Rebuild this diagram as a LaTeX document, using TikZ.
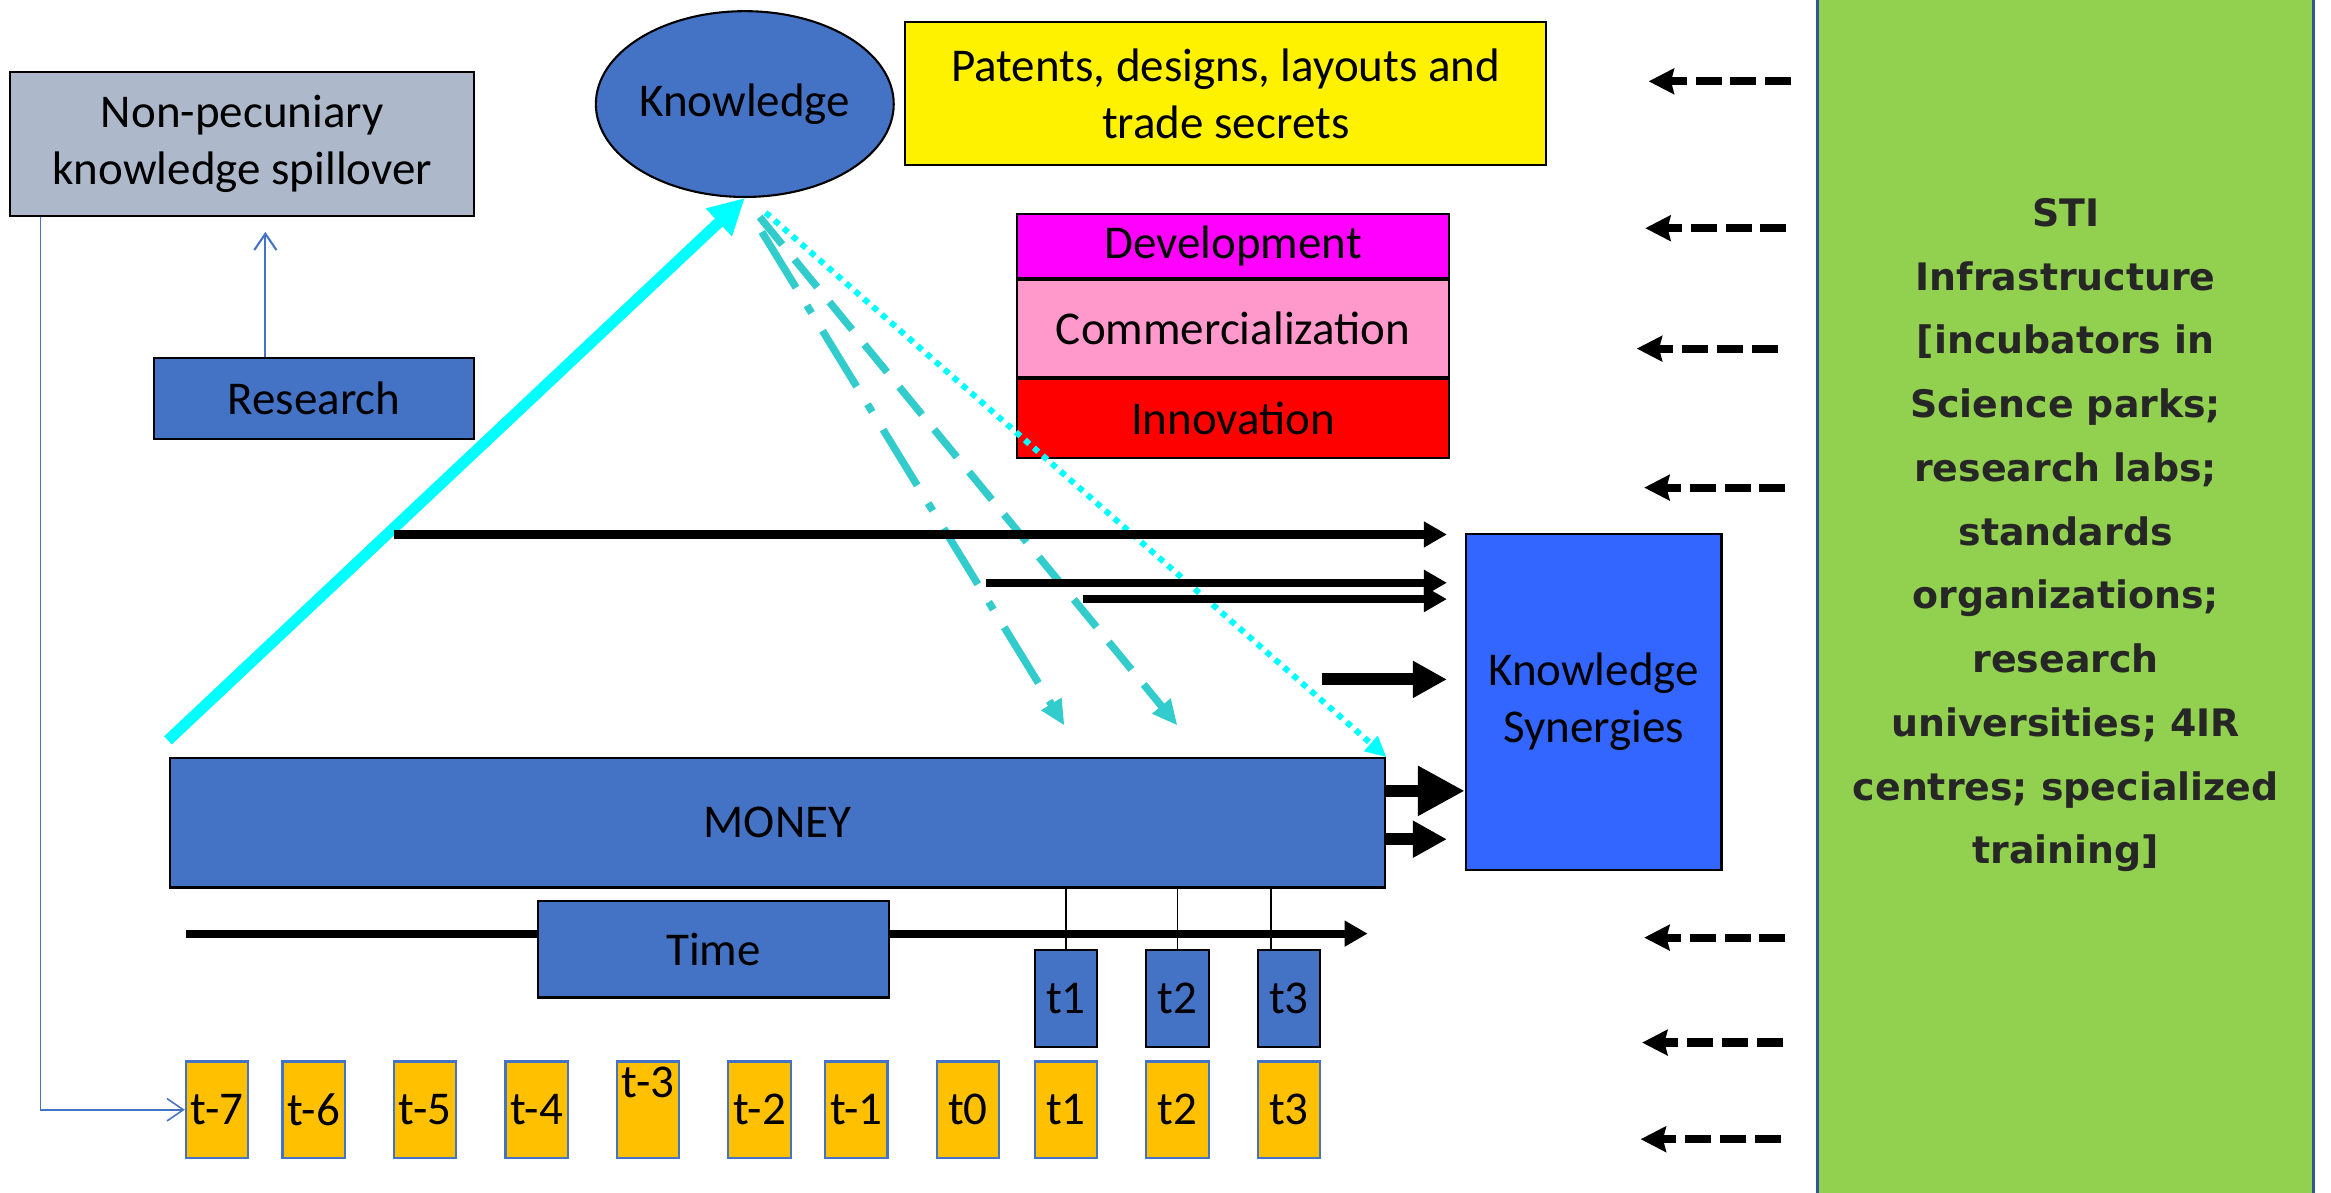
\documentclass[tikz,border=0pt]{standalone}
\usepackage{fontspec}
\setmainfont{Carlito}
\newfontfamily\stifont{DejaVu Sans}
\usetikzlibrary{arrows.meta,shapes.geometric,positioning}
\definecolor{accent}{HTML}{4472C4}
\definecolor{greyblue}{HTML}{ADB9CA}
\definecolor{synblue}{HTML}{3366FF}
\definecolor{devpink}{HTML}{FF00FF}
\definecolor{compink}{HTML}{FF99CC}
\definecolor{innored}{HTML}{FF0000}
\definecolor{tamber}{HTML}{FFC000}
\definecolor{stigreen}{HTML}{92D050}
\definecolor{stiedge}{HTML}{2F5597}
\definecolor{stitext}{HTML}{262626}
\definecolor{tealish}{HTML}{33CCCC}
\definecolor{aqua}{HTML}{00FFFF}

\begin{document}
\begin{tikzpicture}[x=0.02cm, y=-0.02cm, font=\fontsize{18}{21.8}\selectfont,
		box/.style = {draw, line width=0.8pt, inner sep=0pt, align=center},
		tbox/.style = {box, fill=accent, minimum width=0.84cm, minimum height=1.3cm},
		obox/.style = {draw=accent, line width=0.8pt, fill=tamber, inner sep=0pt, minimum width=0.84cm, minimum height=1.3cm},
		feed/.style = {accent, line width=0.8pt, -{Straight Barb[length=0.22cm,width=0.3cm]}},
		fat/.style = {line width=0.11cm, -{Triangle[length=0.31cm,width=0.33cm]}},
		fatter/.style = {line width=0.16cm, -{Triangle[length=0.46cm,width=0.47cm]}},
		fattest/.style = {line width=0.16cm, -{Triangle[length=0.63cm,width=0.63cm]}},
		infra/.style = {line width=0.11cm, dash pattern=on 0.35cm off 0.12cm, -{Stealth[length=0.34cm,width=0.34cm,inset=0.04cm]}},
		flow/.style = {tealish, line width=0.1cm, -{Triangle[length=0.34cm,width=0.3cm]}}]
	\useasboundingbox (0,0) rectangle (1568,802);
	\node[draw=stiedge, line width=1.2pt, fill=stigreen, minimum width=6.68cm, minimum height=16.6cm] (sti) at (1389.5,401) {};
	\node[font=\stifont\bfseries\fontsize{14.5}{24.4}\selectfont, text=stitext, align=center, inner sep=0pt] (stilabel) at (1389.5,360) {STI\\Infrastructure\\{[}incubators in\\Science parks;\\research labs;\\standards\\organizations;\\research\\universities; 4IR\\centres; specialized\\training]};
	\node[box, fill=greyblue, minimum width=6.24cm, minimum height=1.94cm] (spillover) at (163,97) {Non-pecuniary\\knowledge spillover};
	\node[box, fill=accent, minimum width=4.31cm, minimum height=1.09cm] (research) at (211.3,268.2) {Research};
	\node[draw, ellipse, line width=0.8pt, fill=accent, minimum width=3.88cm, minimum height=2.5cm, inner sep=0pt] (knowledge) at (501,70) {Knowledge};
	\node[box, fill=yellow, minimum width=8.62cm, minimum height=1.92cm] (patents) at (824.5,63) {Patents, designs, layouts and\\trade secrets};
	\node[box, fill=devpink, minimum width=5.82cm, minimum height=0.86cm] (dev) at (829.5,165.5) {Development};
	\node[box, fill=compink, minimum width=5.82cm, minimum height=1.3cm, below=0pt of dev] (comm) {Commercialization};
	\node[box, fill=innored, minimum width=5.82cm, minimum height=1.06cm, below=0pt of comm] (innov) {Innovation};
	\node[box, fill=synblue, minimum width=3.44cm, minimum height=4.52cm] (synergies) at (1072,472) {Knowledge\\Synergies};
	\node[box, fill=accent, minimum width=16.36cm, minimum height=1.74cm] (money) at (523,553.5) {MONEY};
	\coordinate (tstart) at (125,628);
	\coordinate (tend) at (920,628);
	\draw[fat] (tstart) -- (tend);
	\node[box, fill=accent, minimum width=4.72cm, minimum height=1.3cm] (time) at (480,638.5) {Time};
	\foreach \x/\n in {717/1, 792/2, 867/3}
		\node[tbox] (up\n) at (\x,671.5) {t\n};
	\foreach \x/\n in {146/-7, 211/-6, 286/-5, 361/-4, 511/-2, 576/-1, 651/0, 717/1, 792/2, 867/3}
		\node[obox] (lo\n) at (\x,746.5) {t\n};
	\node[obox] (lo-3) at (436,746.5) {};
	\node[anchor=base, inner sep=0pt] (lo-3text) at ([yshift=-0.5cm]lo-3.north) {t-3};
	\draw[line width=0.5pt] (up1.north) -- (up1.north |- money.south);
	\draw[line width=0.5pt] (up2.north) -- (up2.north |- money.south);
	\draw[line width=0.5pt] ([xshift=-0.24cm]up3.north) -- ([xshift=-0.24cm]up3.north |- money.south);
	\coordinate (spillin) at (178.5,156);
	\draw[feed] (research.north -| spillin) -- (spillin);
	\draw[feed, line width=0.6pt] ([xshift=0.42cm]spillover.south west) |- (lo-7.west);
	\coordinate (cyanfoot) at (113,498);
	\draw[aqua, line width=0.15cm, -{Triangle[length=0.48cm,width=0.48cm]}] (cyanfoot) -- (knowledge.south);
	\coordinate (dd0) at (512.5,156);
	\coordinate (dd1) at (716,488);
	\coordinate (da0) at (511,146);
	\coordinate (da1) at (792,488);
	\coordinate (dt0) at (515,143);
	\draw[flow, dash pattern=on 0.88cm off 0.28cm on 0.12cm off 0.28cm] (dd0) -- (dd1);
	\draw[flow, dash pattern=on 0.48cm off 0.26cm] (da0) -- (da1);
	\draw[aqua, line width=0.08cm, dash pattern=on 0.08cm off 0.08cm, -{Triangle[length=0.28cm,width=0.26cm]}] (dt0) -- (money.north east);
	\coordinate (sw) at ([xshift=-0.24cm]synergies.west);
	\coordinate (a1) at (265,359.5);
	\coordinate (a2) at (663,392);
	\coordinate (a3) at (728.5,403);
	\coordinate (a4) at (889,457);
	\coordinate (m5) at (932,532);
	\coordinate (m6) at (932,564.5);
	\draw[fat] (a1) -- (a1 -| sw);
	\draw[fat] (a2) -- (a2 -| sw);
	\draw[fat] (a3) -- (a3 -| sw);
	\draw[fatter] (a4) -- (a4 -| sw);
	\draw[fattest] (m5) -- (m5 -| synergies.west);
	\draw[fatter] (m6) -- (m6 -| sw);
	\foreach \y/\xa/\xb [count=\i] in {54.7/1109/1205, 153.5/1106.7/1201.7, 234.5/1101/1196, 328/1106/1201, 630.7/1106/1201, 701.3/1104.6/1199.5, 766.3/1103.6/1198} {
		\coordinate (in\i) at (\xb,\y);
		\coordinate (out\i) at (\xa,\y);
		\draw[infra] (in\i) -- (out\i);
	}
\end{tikzpicture}
\end{document}
